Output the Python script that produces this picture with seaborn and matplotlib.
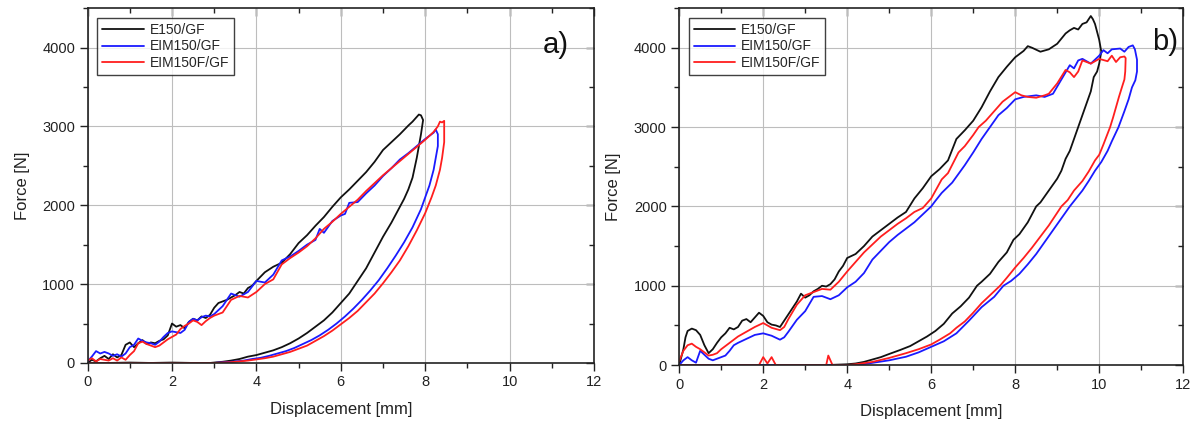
import matplotlib
matplotlib.use("Agg")
import matplotlib.pyplot as plt
import pandas as pd
import seaborn as sns
from matplotlib.ticker import MultipleLocator

SPECIMENS = ["E150/GF", "EIM150/GF", "EIM150F/GF"]
COLORS = {"E150/GF": "#111111", "EIM150/GF": "#1a1aff", "EIM150F/GF": "#ff1e1e"}

# ---- panel a) : loading + unloading path ----
a_e150_x = [0, 0.1, 0.2, 0.3, 0.4, 0.5, 0.6, 0.7, 0.8, 0.9, 1.0, 1.1, 1.2, 1.3, 1.4, 1.5, 1.6, 1.7,
            1.8, 1.9, 2.0, 2.1, 2.2, 2.3, 2.4, 2.5, 2.6, 2.7, 2.8, 2.9, 3.0, 3.1, 3.2, 3.3, 3.4, 3.5,
            3.6, 3.7, 3.8, 3.9, 4.0, 4.2, 4.4, 4.6, 4.8, 5.0, 5.2, 5.4, 5.6, 5.8, 6.0, 6.2, 6.4, 6.6,
            6.8, 7.0, 7.2, 7.4, 7.6, 7.7, 7.8, 7.85, 7.9, 7.95,
            7.9, 7.85, 7.8, 7.7, 7.6, 7.5, 7.4, 7.2, 7.0, 6.8, 6.6, 6.4, 6.2, 6.0, 5.8, 5.6, 5.4,
            5.2, 5.0, 4.8, 4.6, 4.4, 4.2, 4.0, 3.8, 3.6, 3.4, 3.2, 3.0, 2.9, 2.5, 2.0, 1.5, 1.0,
            0.5, 0.0]
a_e150_f = [0, 40, 20, 60, 90, 50, 110, 70, 100, 230, 260, 200, 250, 290, 240, 260, 250, 280,
            300, 350, 500, 460, 480, 440, 520, 560, 540, 590, 570, 610, 700, 760, 780, 800, 830,
            860, 900, 880, 950, 980, 1040, 1150, 1220, 1270, 1380, 1520, 1620, 1740, 1850, 1980,
            2100, 2200, 2310, 2420, 2550, 2700, 2800, 2900, 3010, 3060, 3120, 3150, 3140, 3080,
            2900, 2750, 2600, 2350, 2200, 2080, 1980, 1780, 1600, 1400, 1200, 1040, 880, 760, 640,
            540, 460, 380, 310, 250, 200, 160, 130, 100, 80, 50, 30, 15, 5, 0, 0, 5, 0, 5, 0, 0]

a_eim_x = [0, 0.1, 0.2, 0.3, 0.4, 0.5, 0.6, 0.7, 0.8, 0.9, 1.0, 1.1, 1.2, 1.3, 1.4, 1.5, 1.6, 1.7,
           1.8, 1.9, 2.0, 2.1, 2.2, 2.3, 2.4, 2.5, 2.6, 2.7, 2.8, 2.9, 3.0, 3.2, 3.4, 3.6, 3.8, 4.0,
           4.2, 4.4, 4.6, 4.8, 5.0, 5.2, 5.4, 5.5, 5.6, 5.8, 6.0, 6.1, 6.2, 6.4, 6.6, 6.8, 7.0, 7.2,
           7.4, 7.6, 7.8, 8.0, 8.1, 8.2, 8.25,
           8.3, 8.3, 8.25, 8.2, 8.1, 8.0, 7.9, 7.7, 7.5, 7.3, 7.1, 6.9, 6.7, 6.5, 6.3, 6.1, 5.9,
           5.7, 5.5, 5.3, 5.1, 4.9, 4.7, 4.5, 4.3, 4.1, 3.9, 3.7, 3.5, 3.3, 3.1, 3.0, 2.5, 2.0,
           1.5, 1.0, 0.5, 0]
a_eim_f = [20, 80, 150, 120, 140, 120, 90, 110, 80, 120, 200, 230, 310, 280, 260, 250, 230, 270,
           330, 380, 400, 390, 380, 420, 520, 560, 540, 580, 600, 590, 620, 720, 880, 840, 900,
           1040, 1020, 1120, 1300, 1350, 1420, 1500, 1560, 1700, 1650, 1800, 1870, 1890, 2030,
           2040, 2150, 2250, 2370, 2470, 2580, 2660, 2750, 2840, 2880, 2920, 2960,
           2900, 2750, 2600, 2450, 2250, 2100, 1950, 1720, 1530, 1360, 1200, 1050, 920, 800, 690,
           590, 500, 420, 350, 290, 240, 190, 150, 120, 90, 65, 50, 30, 20, 10, 5, 0, 0, 0, 0, 0,
           0, 0]

a_eimf_x = [0, 0.1, 0.2, 0.3, 0.4, 0.5, 0.6, 0.7, 0.8, 0.9, 1.0, 1.1, 1.2, 1.3, 1.4, 1.5, 1.6,
            1.7, 1.8, 1.9, 2.0, 2.1, 2.2, 2.3, 2.4, 2.5, 2.6, 2.7, 2.8, 2.9, 3.0, 3.2, 3.4, 3.6,
            3.8, 4.0, 4.2, 4.4, 4.6, 4.8, 5.0, 5.2, 5.4, 5.6, 5.8, 6.0, 6.2, 6.4, 6.6, 6.8, 7.0,
            7.2, 7.4, 7.6, 7.8, 8.0, 8.2, 8.3, 8.35, 8.4, 8.45,
            8.45, 8.45, 8.4, 8.35, 8.25, 8.15, 8.0, 7.8, 7.6, 7.4, 7.2, 7.0, 6.8, 6.6, 6.4, 6.2,
            6.0, 5.8, 5.6, 5.4, 5.2, 5.0, 4.8, 4.6, 4.4, 4.2, 4.0, 3.8, 3.6, 3.4, 3.2, 3.0, 2.5,
            2.0, 1.5, 1.0, 0.5, 0]
a_eimf_f = [30, 60, 20, 50, 40, 30, 60, 30, 70, 40, 100, 150, 250, 270, 240, 220, 200, 220, 260,
            300, 330, 360, 430, 470, 500, 540, 520, 480, 530, 570, 600, 640, 800, 850, 830, 900,
            1000, 1060, 1250, 1330, 1400, 1480, 1580, 1700, 1790, 1890, 1980, 2070, 2180, 2280,
            2380, 2470, 2560, 2650, 2740, 2830, 2930, 3000, 3060, 3050, 3070,
            2950, 2800, 2600, 2450, 2250, 2100, 1900, 1680, 1480, 1300, 1150, 1010, 880, 770, 660,
            570, 490, 410, 340, 280, 220, 180, 140, 110, 80, 60, 45, 30, 20, 10, 5, 0, 0, 0, 0, 0,
            0, 0]

# ---- panel b) ----
b_e150_x = [0, 0.1, 0.15, 0.2, 0.3, 0.4, 0.5, 0.6, 0.7, 0.8, 0.9, 1.0, 1.1, 1.2, 1.3, 1.4, 1.5,
            1.6, 1.7, 1.8, 1.9, 2.0, 2.1, 2.2, 2.3, 2.4, 2.5, 2.6, 2.7, 2.8, 2.9, 3.0, 3.1, 3.2,
            3.3, 3.4, 3.5, 3.6, 3.7, 3.8, 3.9, 4.0, 4.2, 4.4, 4.6, 4.8, 5.0, 5.2, 5.4, 5.6, 5.8,
            6.0, 6.2, 6.4, 6.6, 6.8, 7.0, 7.2, 7.4, 7.6, 7.8, 8.0, 8.2, 8.3, 8.4, 8.6, 8.8, 9.0,
            9.2, 9.3, 9.4, 9.5, 9.6, 9.7, 9.8, 9.85, 9.9, 9.95, 10.0, 10.05,
            10.0, 9.95, 9.87, 9.8, 9.7, 9.6, 9.5, 9.4, 9.3, 9.2, 9.1, 9.0, 8.8, 8.6, 8.5, 8.3, 8.1,
            7.96, 7.8, 7.6, 7.4, 7.2, 7.09, 6.9, 6.7, 6.5, 6.3, 6.1, 5.9, 5.7, 5.5, 5.26, 5.0,
            4.8, 4.6, 4.4, 4.2, 4.0, 3.5, 3.0, 2.0, 1.0, 0]
b_e150_f = [0, 200, 350, 430, 460, 440, 380, 250, 150, 200, 280, 350, 400, 470, 450, 480, 560,
            580, 540, 600, 660, 620, 540, 510, 500, 480, 560, 640, 720, 800, 900, 850, 880, 930,
            960, 1000, 990, 1020, 1080, 1180, 1250, 1350, 1400, 1500, 1620, 1700, 1780, 1860,
            1930, 2100, 2230, 2380, 2470, 2580, 2850, 2960, 3080, 3250, 3450, 3630, 3760, 3880,
            3960, 4020, 4000, 3950, 3980, 4050, 4180, 4220, 4250, 4230, 4300, 4320, 4400, 4360,
            4300, 4200, 4100, 3950,
            3800, 3700, 3630, 3450, 3300, 3150, 3000, 2850, 2700, 2600, 2450, 2350, 2200, 2050,
            2000, 1800, 1650, 1580, 1420, 1300, 1150, 1050, 1000, 850, 740, 650, 520, 430, 360,
            300, 240, 190, 140, 100, 70, 40, 20, 10, 0, 0, 0, 0, 0]

b_eim_x = [0, 0.1, 0.2, 0.3, 0.4, 0.5, 0.6, 0.7, 0.8, 0.9, 1.0, 1.1, 1.2, 1.3, 1.4, 1.6, 1.8, 2.0,
           2.2, 2.4, 2.5, 2.6, 2.8, 3.0, 3.2, 3.4, 3.6, 3.8, 4.0, 4.2, 4.4, 4.6, 4.8, 5.0, 5.2,
           5.4, 5.6, 5.8, 6.0, 6.1, 6.25, 6.5, 6.8, 7.0, 7.2, 7.4, 7.6, 7.8, 8.0, 8.2, 8.5, 8.7,
           8.9, 9.1, 9.3, 9.4, 9.5, 9.6, 9.8, 10.0, 10.1, 10.2, 10.3, 10.5, 10.6, 10.7, 10.8,
           10.85,
           10.9, 10.9, 10.86, 10.78, 10.7, 10.6, 10.46, 10.3, 10.2, 10.05, 9.9, 9.75, 9.6, 9.45,
           9.3, 9.1, 8.9, 8.7, 8.5, 8.3, 8.1, 7.9, 7.72, 7.5, 7.2, 6.9, 6.6, 6.3, 6.0, 5.7, 5.4,
           5.0, 4.5, 4.2, 3.0, 2.0, 1.0, 0]
b_eim_f = [0, 60, 100, 60, 30, 180, 130, 80, 60, 80, 100, 120, 180, 250, 280, 330, 380, 400, 370,
           320, 350, 420, 570, 680, 860, 870, 830, 880, 980, 1050, 1160, 1330, 1440, 1550, 1640,
           1720, 1800, 1900, 2000, 2070, 2170, 2300, 2520, 2680, 2850, 3000, 3150, 3240, 3350,
           3380, 3400, 3380, 3420, 3600, 3780, 3740, 3840, 3860, 3800, 3900, 3970, 3930, 3980,
           3990, 3950, 4010, 4030, 3980,
           3850, 3700, 3590, 3500, 3350, 3200, 3000, 2820, 2700, 2560, 2450, 2320, 2200, 2100,
           2000, 1850, 1700, 1550, 1400, 1270, 1150, 1060, 1000, 860, 730, 560, 400, 300, 230,
           160, 105, 60, 20, 0, 0, 0, 0, 0]

b_eimf_x = [0, 0.1, 0.2, 0.3, 0.4, 0.5, 0.6, 0.7, 0.8, 0.9, 1.0, 1.2, 1.4, 1.6, 1.8, 2.0, 2.2,
            2.4, 2.5, 2.6, 2.8, 3.0, 3.2, 3.4, 3.6, 3.8, 4.0, 4.2, 4.4, 4.6, 4.8, 5.0, 5.2, 5.4,
            5.6, 5.8, 6.0, 6.25, 6.4, 6.65, 6.8, 7.0, 7.13, 7.3, 7.5, 7.7, 7.9, 8.0, 8.15, 8.3,
            8.5, 8.7, 8.8, 9.0, 9.2, 9.3, 9.4, 9.5, 9.6, 9.8, 10.0, 10.2, 10.3, 10.4, 10.5, 10.6,
            10.63,
            10.62, 10.6, 10.54, 10.47, 10.4, 10.33, 10.26, 10.1, 10.0, 9.9, 9.75, 9.6, 9.4, 9.25,
            9.1, 8.95, 8.8, 8.6, 8.4, 8.2, 8.0, 7.8, 7.64, 7.4, 7.2, 7.0, 6.8, 6.6, 6.45, 6.2,
            6.0, 5.7, 5.4, 5.0, 4.6, 4.2, 4.0, 3.65, 3.55, 3.5, 3.2, 2.3, 2.2, 2.1, 2.0, 1.9,
            1.0, 0]
b_eimf_f = [50, 180, 250, 270, 230, 200, 160, 120, 130, 150, 200, 280, 360, 420, 480, 530, 470,
            440, 480, 580, 760, 880, 920, 960, 950, 1050, 1180, 1300, 1420, 1520, 1620, 1700,
            1780, 1850, 1930, 1980, 2100, 2340, 2420, 2680, 2760, 2900, 3000, 3080, 3200, 3320,
            3400, 3440, 3400, 3380, 3370, 3400, 3420, 3550, 3720, 3690, 3630, 3700, 3840, 3800,
            3860, 3830, 3900, 3820, 3880, 3890, 3870,
            3700, 3600, 3500, 3380, 3250, 3120, 3000, 2780, 2650, 2580, 2440, 2320, 2200, 2080,
            2000, 1880, 1760, 1620, 1480, 1350, 1230, 1100, 1000, 880, 780, 660, 550, 470, 400,
            320, 260, 200, 150, 90, 40, 10, 0, 0, 120, 0, 0, 0, 100, 20, 100, 0, 0, 0]

PANELS = {
    "a)": [(a_e150_x, a_e150_f), (a_eim_x, a_eim_f), (a_eimf_x, a_eimf_f)],
    "b)": [(b_e150_x, b_e150_f), (b_eim_x, b_eim_f), (b_eimf_x, b_eimf_f)],
}


def panel_frame(curves):
    parts = []
    for name, (xs, fs) in zip(SPECIMENS, curves):
        parts.append(pd.DataFrame({"disp": xs, "force": fs, "specimen": name,
                                   "step": range(len(xs))}))
    return pd.concat(parts, ignore_index=True)


def style_ticks(axis_obj, major, minor):
    axis_obj.set_major_locator(MultipleLocator(major))
    axis_obj.set_minor_locator(MultipleLocator(minor))


def main() -> None:
    sns.set_theme(style="white")
    plt.rcParams["font.family"] = ["Liberation Sans", "DejaVu Sans"]

    fig = plt.figure(figsize=(12, 4.25), dpi=100)
    positions = {"a)": [0.073, 0.146, 0.422, 0.835], "b)": [0.566, 0.141, 0.420, 0.840]}
    label_pos = {"a)": (0.925, 0.895), "b)": (0.965, 0.905)}

    for label, curves in PANELS.items():
        ax = fig.add_axes(positions[label])
        df = panel_frame(curves)
        sns.lineplot(data=df, x="disp", y="force", hue="specimen", hue_order=SPECIMENS,
                     palette=COLORS, sort=False, estimator=None, linewidth=1.3, ax=ax)

        ax.set_xlim(0, 12)
        ax.set_ylim(0, 4500)
        style_ticks(ax.xaxis, 2, 1)
        style_ticks(ax.yaxis, 1000, 500)
        ax.grid(True, which="major", color="#bdbdbd", linewidth=0.8)

        # bottom / left ticks point out and carry the labels
        ax.tick_params(which="both", direction="out", bottom=True, left=True,
                       labelsize=10.5, colors="#222222", pad=3)
        ax.tick_params(which="major", length=6, width=1)
        ax.tick_params(which="minor", length=3.5, width=1)

        # top / right mirrored ticks point into the plot
        top = ax.secondary_xaxis("top")
        style_ticks(top.xaxis, 2, 1)
        top.tick_params(which="both", direction="in", top=True, labeltop=False,
                        colors="#222222")
        right = ax.secondary_yaxis("right")
        style_ticks(right.yaxis, 1000, 500)
        right.tick_params(which="both", direction="in", right=True, labelright=False,
                          colors="#222222")
        for sec in (top, right):
            sec.tick_params(which="major", length=6, width=1)
            sec.tick_params(which="minor", length=3.5, width=1)
            for spine in sec.spines.values():
                spine.set_visible(False)

        for spine in ax.spines.values():
            spine.set_color("#222222")
            spine.set_linewidth(1.2)

        ax.set_xlabel("Displacement [mm]", fontsize=12, color="#222222", labelpad=9)
        ax.set_ylabel("Force [N]", fontsize=12, color="#222222", labelpad=9)

        ax.text(*label_pos[label], label, transform=ax.transAxes, fontsize=21,
                ha="center", va="center", color="#111111")

        leg = ax.legend(loc="upper left", fontsize=10, frameon=True, fancybox=False,
                        edgecolor="#111111", handlelength=3.0, borderaxespad=0.7,
                        labelspacing=0.2, borderpad=0.35, handletextpad=0.4)
        leg.get_frame().set_linewidth(1.0)
        leg.set_title(None)

    fig.savefig("out.png", dpi=100)
    plt.close(fig)


if __name__ == "__main__":
    main()
